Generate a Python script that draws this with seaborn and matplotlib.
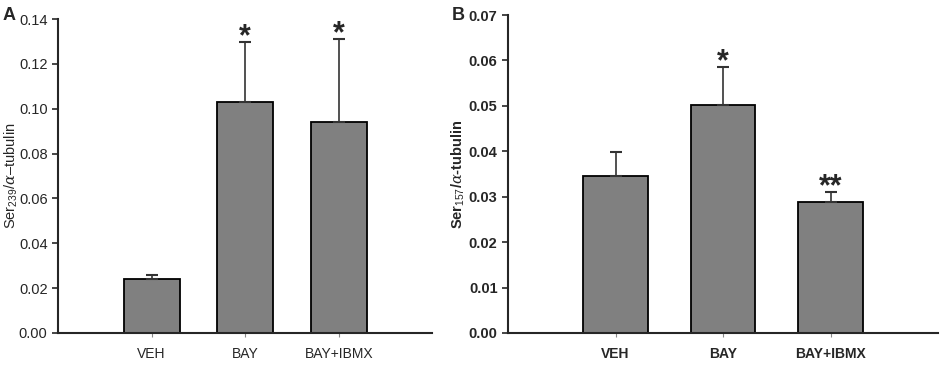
import matplotlib
matplotlib.use('Agg')
import matplotlib.pyplot as plt
import seaborn as sns
import pandas as pd

groups = ['VEH', 'BAY', 'BAY+IBMX']

ser239_mean = [0.024, 0.103, 0.094]
ser239_err = [0.002, 0.027, 0.037]
ser239_stars = ['', '*', '*']

ser157_mean = [0.0345, 0.0502, 0.0289]
ser157_err = [0.0053, 0.0083, 0.0021]
ser157_stars = ['', '*', '**']

sns.set_style('ticks')
plt.rcParams['font.family'] = ['Liberation Sans', 'DejaVu Sans']
plt.rcParams['mathtext.fontset'] = 'custom'
plt.rcParams['mathtext.rm'] = 'Liberation Sans'
plt.rcParams['mathtext.it'] = 'DejaVu Serif:italic'

fig = plt.figure(figsize=(9.45, 3.65), dpi=100)
axA = fig.add_axes([0.0614, 0.0877, 0.396, 0.860])
axB = fig.add_axes([0.5376, 0.0877, 0.455, 0.871])


def panel(ax, means, errs, stars, ylim, step, ylabel, weight, label_x):
    df = pd.DataFrame({'group': groups, 'value': means})
    sns.barplot(data=df, x='group', y='value', color='#808080', saturation=1,
                edgecolor='black', linewidth=1.3, width=0.6, errorbar=None, ax=ax)
    ax.errorbar(range(len(groups)), means, yerr=[[0] * len(errs), errs],
                fmt='none', ecolor='#333333', elinewidth=1.2, capsize=4, capthick=1.5)
    for i, (m, e, s) in enumerate(zip(means, errs, stars)):
        if s:
            ax.annotate(s, (i, m + e), xytext=(0, -7.5), textcoords='offset points',
                        ha='center', va='bottom', fontsize=22, fontweight='bold')
    n = int(round(ylim[1] / step)) + 1
    ax.set_xlim(-1, 3)
    ax.set_ylim(*ylim)
    ax.set_yticks([round(step * k, 3) for k in range(n)])
    ax.set_yticklabels(['%.2f' % (step * k) for k in range(n)],
                       fontsize=10.5, fontweight=weight)
    ax.set_xticks(range(len(groups)))
    ax.set_xticklabels(groups, fontsize=10, fontweight=weight)
    ax.tick_params(axis='x', length=3, width=0.8, color='#888888', pad=7)
    ax.tick_params(axis='y', length=4, width=1.2)
    ax.set_xlabel('')
    ax.set_ylabel(ylabel, fontsize=10.5, fontweight=weight)
    ax.yaxis.set_label_coords(label_x, 0.5)
    for side in ['left', 'bottom']:
        ax.spines[side].set_linewidth(1.5)
    sns.despine(ax=ax)


panel(axA, ser239_mean, ser239_err, ser239_stars, (0, 0.14), 0.02,
      r'Ser$_{239}$/$\alpha$–tubulin', 'normal', -0.102)
panel(axB, ser157_mean, ser157_err, ser157_stars, (0, 0.07), 0.01,
      r'Ser$_{157}$/$\alpha$-tubulin', 'bold', -0.095)

fig.text(0.003, 0.958, 'A', fontsize=13, fontweight='bold', va='center')
fig.text(0.478, 0.958, 'B', fontsize=13, fontweight='bold', va='center')

plt.savefig('out.png', dpi=100)
